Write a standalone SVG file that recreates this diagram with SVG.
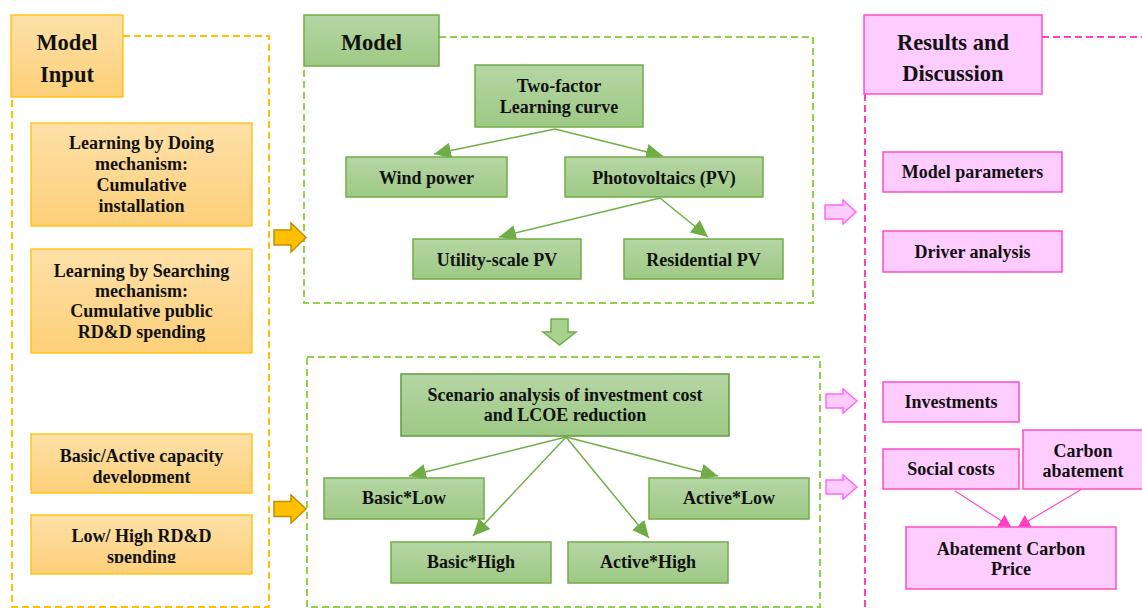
<svg xmlns="http://www.w3.org/2000/svg" width="1142" height="608" viewBox="0 0 1142 608">
<defs>
  <linearGradient id="gOr" x1="0" y1="0" x2="0" y2="1">
    <stop offset="0" stop-color="#fee0a8"/>
    <stop offset="1" stop-color="#fdd079"/>
  </linearGradient>
  <linearGradient id="gGr" x1="0" y1="0" x2="0" y2="1">
    <stop offset="0" stop-color="#b5d6a4"/>
    <stop offset="1" stop-color="#9ec985"/>
  </linearGradient>
  <marker id="ag" markerUnits="userSpaceOnUse" markerWidth="18" markerHeight="16" refX="17" refY="8" orient="auto">
    <path d="M0,0 L17,8 L0,16 z" fill="#70ad47"/>
  </marker>
  <marker id="ap" markerUnits="userSpaceOnUse" markerWidth="13" markerHeight="14" refX="12" refY="7" orient="auto">
    <path d="M0,0 L12,7 L0,14 z" fill="#ff3fbf"/>
  </marker>
  <clipPath id="c3"><rect x="31" y="434" width="221" height="49"/></clipPath>
  <clipPath id="c4"><rect x="31" y="515" width="221" height="48"/></clipPath>
</defs>
<style>
  .t{font-family:"Liberation Serif","DejaVu Serif",serif;font-weight:bold;font-size:18px;fill:#111;text-anchor:middle}
  .h{font-size:22.5px}
  .bo{fill:url(#gOr);stroke:#ffc000;stroke-width:1.3}
  .bg{fill:url(#gGr);stroke:#70ad47;stroke-width:1.5}
  .bp{fill:#ffccff;stroke:#ff4dc4;stroke-width:1.5}
  .dash{fill:none;stroke-width:2;stroke-dasharray:7 4}
  .cg{stroke:#70ad47;stroke-width:1.5;fill:none;marker-end:url(#ag)}
  .cp{stroke:#ff4dc4;stroke-width:1.2;fill:none;marker-end:url(#ap)}
  .ao{fill:#ffc000;stroke:#bf9000;stroke-width:1.5}
  .ap{fill:#ffccff;stroke:#ff66ff;stroke-width:1.5}
  .agr{fill:#a9d18e;stroke:#70ad47;stroke-width:1.5}
</style>
<rect width="1142" height="608" fill="#ffffff"/>

<!-- frames -->
<g id="frames">
  <path class="dash" stroke="#ffc000" d="M123,36 H269 V607 H12 V97"/>
  <path class="dash" stroke="#92d050" d="M439,37 H813 V303 H304 V66"/>
  <rect class="dash" stroke="#92d050" x="307" y="357" width="513" height="250"/>
  <path class="dash" stroke="#ff3fbf" d="M1042,37 H1142 M865,94 V608"/>
</g>

<!-- block arrows -->
<g id="block-arrows">
  <polygon class="ao" points="274,230 291,230 291,223 306,237.5 291,252 291,245 274,245"/>
  <polygon class="ao" points="274,501.5 291,501.5 291,495 306,509 291,523 291,516.5 274,516.5"/>
  <polygon class="agr" points="551,319 568,319 568,332 576,332 559.5,345 543,332 551,332"/>
  <polygon class="ap" points="825,205 843,205 843,200 856,212 843,224 843,219 825,219"/>
  <polygon class="ap" points="826,394 843,394 843,389 857,401 843,413 843,408 826,408"/>
  <polygon class="ap" points="826,480 843,480 843,475 857,487 843,499 843,494 826,494"/>
</g>

<!-- connectors -->
<g id="connectors">
  <line class="cg" x1="555" y1="129" x2="434" y2="154"/>
  <line class="cg" x1="555" y1="129" x2="663" y2="156"/>
  <line class="cg" x1="660" y1="198" x2="499" y2="237"/>
  <line class="cg" x1="660" y1="198" x2="708" y2="237"/>
  <line class="cg" x1="566" y1="437" x2="409" y2="476"/>
  <line class="cg" x1="566" y1="437" x2="473" y2="536"/>
  <line class="cg" x1="566" y1="437" x2="649" y2="538"/>
  <line class="cg" x1="566" y1="437" x2="718" y2="476"/>
  <line class="cp" x1="955" y1="491" x2="1011" y2="527"/>
  <line class="cp" x1="1082" y1="489" x2="1018" y2="527"/>
</g>

<!-- Model Input column -->
<g id="model-input-header">
  <rect class="bo" x="11" y="15" width="112" height="82"/>
  <text class="t h" x="67" y="50">Model</text>
  <text class="t h" x="67" y="81.5">Input</text>
</g>
<g id="lbd">
  <rect class="bo" x="31" y="123" width="221" height="103"/>
  <text class="t" x="141.5" y="149">Learning by Doing</text>
  <text class="t" x="141.5" y="170">mechanism:</text>
  <text class="t" x="141.5" y="191">Cumulative</text>
  <text class="t" x="141.5" y="212">installation</text>
</g>
<g id="lbs">
  <rect class="bo" x="31" y="249" width="221" height="104"/>
  <text class="t" x="141.5" y="277">Learning by Searching</text>
  <text class="t" x="141.5" y="297">mechanism:</text>
  <text class="t" x="141.5" y="317">Cumulative public</text>
  <text class="t" x="141.5" y="338">RD&amp;D spending</text>
</g>
<g id="capacity">
  <rect class="bo" x="31" y="434" width="221" height="59"/>
  <g clip-path="url(#c3)">
    <text class="t" x="141.5" y="461.5">Basic/Active capacity</text>
    <text class="t" x="141.5" y="483">development</text>
  </g>
</g>
<g id="rdd">
  <rect class="bo" x="31" y="515" width="221" height="59"/>
  <g clip-path="url(#c4)">
    <text class="t" x="141.5" y="541.5">Low/ High RD&amp;D</text>
    <text class="t" x="141.5" y="563">spending</text>
  </g>
</g>

<!-- Model column -->
<g id="model-header">
  <rect class="bg" x="304" y="15" width="135" height="51"/>
  <text class="t h" x="371.5" y="50">Model</text>
</g>
<g id="two-factor">
  <rect class="bg" x="475" y="65" width="168" height="62"/>
  <text class="t" x="559" y="92">Two-factor</text>
  <text class="t" x="559" y="113">Learning curve</text>
</g>
<g id="wind">
  <rect class="bg" x="346" y="157" width="161" height="40"/>
  <text class="t" x="426.5" y="184">Wind power</text>
</g>
<g id="pv">
  <rect class="bg" x="565" y="157" width="198" height="40"/>
  <text class="t" x="664" y="184">Photovoltaics (PV)</text>
</g>
<g id="utility">
  <rect class="bg" x="413" y="239" width="168" height="40"/>
  <text class="t" x="497" y="266">Utility-scale PV</text>
</g>
<g id="residential">
  <rect class="bg" x="624" y="239" width="159" height="40"/>
  <text class="t" x="703.5" y="266">Residential PV</text>
</g>
<g id="scenario">
  <rect class="bg" x="401" y="374" width="328" height="62" style="stroke:#5f9a3c"/>
  <text class="t" x="565" y="401">Scenario analysis of investment cost</text>
  <text class="t" x="565" y="421">and LCOE reduction</text>
</g>
<g id="basic-low">
  <rect class="bg" x="324" y="478" width="160" height="41"/>
  <text class="t" x="404" y="504">Basic*Low</text>
</g>
<g id="active-low">
  <rect class="bg" x="649" y="478" width="160" height="41"/>
  <text class="t" x="729" y="504">Active*Low</text>
</g>
<g id="basic-high">
  <rect class="bg" x="391" y="542" width="160" height="41"/>
  <text class="t" x="471" y="568">Basic*High</text>
</g>
<g id="active-high">
  <rect class="bg" x="568" y="542" width="160" height="41"/>
  <text class="t" x="648" y="568">Active*High</text>
</g>

<!-- Results column -->
<g id="results-header">
  <rect class="bp" x="864" y="15" width="178" height="79"/>
  <text class="t h" x="953" y="50">Results and</text>
  <text class="t h" x="953" y="81">Discussion</text>
</g>
<g id="model-parameters">
  <rect class="bp" x="883" y="152" width="179" height="40"/>
  <text class="t" x="972.5" y="178">Model parameters</text>
</g>
<g id="driver-analysis">
  <rect class="bp" x="883" y="231" width="179" height="41"/>
  <text class="t" x="972.5" y="258">Driver analysis</text>
</g>
<g id="investments">
  <rect class="bp" x="883" y="382" width="136" height="40"/>
  <text class="t" x="951" y="408">Investments</text>
</g>
<g id="social-costs">
  <rect class="bp" x="883" y="449" width="136" height="40"/>
  <text class="t" x="951" y="475">Social costs</text>
</g>
<g id="carbon-abatement">
  <rect class="bp" x="1023" y="430" width="120" height="59"/>
  <text class="t" x="1083" y="457">Carbon</text>
  <text class="t" x="1083" y="477">abatement</text>
</g>
<g id="abatement-carbon-price">
  <rect class="bp" x="906" y="527" width="210" height="62"/>
  <text class="t" x="1011" y="555">Abatement Carbon</text>
  <text class="t" x="1011" y="575">Price</text>
</g>
</svg>
